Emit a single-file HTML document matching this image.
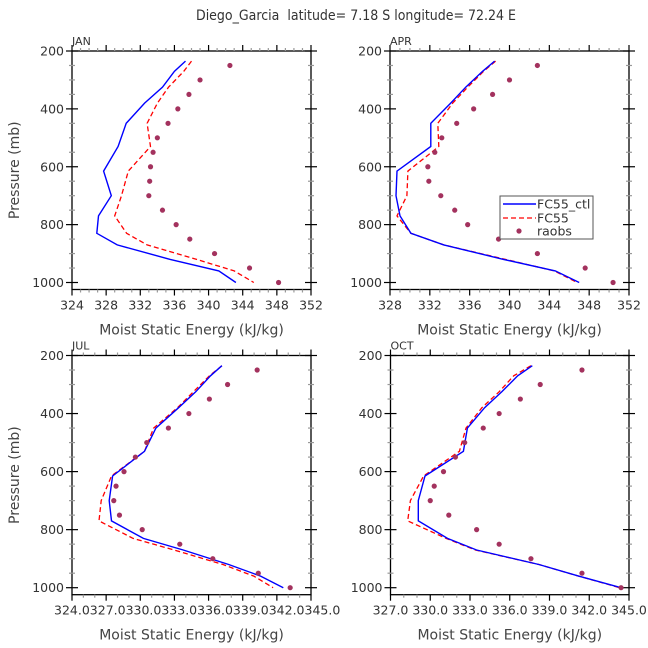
<!DOCTYPE html>
<html><head><meta charset="utf-8"><style>
html,body{margin:0;padding:0;background:#fff;}
svg{display:block;font-family:"DejaVu Sans","Liberation Sans",sans-serif;}
</style></head><body>
<svg id="chart" width="648" height="648" viewBox="0 0 648 648" xmlns="http://www.w3.org/2000/svg">
<text x="356" y="20" font-size="14" text-anchor="middle" fill="#333" textLength="320" lengthAdjust="spacingAndGlyphs">Diego_Garcia&#160; latitude= 7.18 S longitude= 72.24 E</text>
</svg>
<script>
const levels = [235,270,325,380,450,530,615,700,770,830,870,920,960,1000];
const raobLevels = [250,300,350,400,450,500,550,600,650,700,750,800,850,900,950,1000];
const janCtl = [337.3,336.0,334.6,332.5,330.35,329.4,327.7,328.6,327.1,326.9,329.3,335.5,341.2,343.2];
const janFc = [338.0,337.1,335.3,334.0,332.8,333.2,330.6,329.8,329.0,330.4,332.8,338.6,343.0,345.3];
const janObs = [342.5,339.0,337.7,336.4,335.25,334.0,333.5,333.2,333.1,333.0,334.6,336.2,337.8,340.7,344.8,348.2];
const aprCtl = [338.5,337.3,335.6,334.1,332.1,332.1,328.7,328.6,329.0,330.1,333.4,339.4,344.6,347.0];
const aprFc = [338.6,337.4,335.8,334.3,332.8,332.9,329.8,329.7,328.7,330.1,333.4,339.6,344.5,346.8];
const aprObs = [342.8,340.0,338.3,336.4,334.7,333.2,332.5,331.8,331.9,333.1,334.5,335.8,338.9,342.8,347.6,350.4];
const julCtl = [337.2,336.2,334.9,333.4,331.4,330.4,327.6,327.3,327.5,330.3,333.8,337.8,340.6,342.6];
const julFc = [337.2,336.1,334.7,333.3,331.2,330.4,327.5,326.6,326.4,329.4,333.0,337.3,340.0,341.7];
const julObs = [340.3,337.7,336.1,334.3,332.5,330.6,329.6,328.6,327.9,327.7,328.2,330.2,333.5,336.4,340.4,343.2];
const octCtl = [337.7,336.6,335.4,334.1,332.8,332.5,329.6,329.1,329.1,331.3,333.5,338.2,341.2,344.4];
const octFc = [337.6,336.3,335.2,333.9,332.7,332.2,329.5,328.5,328.3,331.2,333.4,338.2,341.2,344.3];
const octObs = [341.45,338.3,336.8,335.2,334.0,332.6,331.9,331.0,330.3,330.0,331.4,333.5,335.2,337.6,341.45,344.4];
const janTicks = ["324","328","332","336","340","344","348","352"];
const aprTicks = ["328","332","336","340","344","348","352"];
const octTicks = ["327.0","330.0","333.0","336.0","339.0","342.0","345.0"];
const yTicks = ["200","400","600","800","1000"];

const NS="http://www.w3.org/2000/svg";
const svg=document.getElementById('chart');
function mk(tag,attrs,parent){const e=document.createElementNS(NS,tag);for(const k in attrs)e.setAttribute(k,attrs[k]);(parent||svg).appendChild(e);return e;}

function panel(o){
  const g=mk('g',{});
  
  
  const L=o.left,R=o.right,T=o.top,Y1000=o.y1000;
  const sy=p=>T+(p-200)*(Y1000-T)/800;
  const sx=v=>L+(v-o.xmin)*(R-L)/(o.xmax-o.xmin);
  const B=Y1000+7;
  const fr=mk('rect',{x:L,y:T,width:R-L,height:B-T,fill:'none',stroke:'#000','stroke-width':1.3},g);
  
  
  for(let p=200;p<=1000;p+=50){
    const y=sy(p);const major=(p%200===0);const len=major?6:3;const col=major?'#000':'#999';
    mk('line',{x1:L-len,x2:L+len,y1:y,y2:y,stroke:col,'stroke-width':1.2},g);
    mk('line',{x1:R-len,x2:R+len,y1:y,y2:y,stroke:col,'stroke-width':1.2},g);
  }
  yTicks.forEach(t=>{
    const tx=mk('text',{x:L-8,y:sy(+t)+4.5,'font-size':12.5,'text-anchor':'end',fill:'#333'},g);
    tx.textContent=t;
    
    
  });
  for(let v=o.xmin;v<=o.xmax+1e-6;v+=o.minor){
    const x=sx(v);
    const major=Math.abs(((v-o.xmin)/o.major)-Math.round((v-o.xmin)/o.major))<1e-6;
    const len=major?6:3;const col=major?'#000':'#999';
    mk('line',{x1:x,x2:x,y1:B,y2:B+len,stroke:col,'stroke-width':1.2},g);
    mk('line',{x1:x,x2:x,y1:T,y2:T-len,stroke:col,'stroke-width':1.2},g);
  }
  if(o.xlabelString){
    const tx=mk('text',{x:sx(o.xmin)-18,y:B+20,'font-size':12.5,fill:'#333'},g);
    tx.textContent=o.xlabelString;
    
    
  } else {
    o.xticks.forEach(t=>{
      const tx=mk('text',{x:sx(+t),y:B+20,'font-size':12.5,'text-anchor':'middle',fill:'#333'},g);
      tx.textContent=t;
      
      
    });
  }
  const xt=mk('text',{x:(L+R)/2,y:B+45,'font-size':14,'text-anchor':'middle',fill:'#444'},g);
  xt.textContent='Moist Static Energy (kJ/kg)';
  
  
  if(o.ytitle){
    const yt=mk('text',{x:0,y:0,'font-size':14,'text-anchor':'middle',fill:'#444',transform:`translate(19,${(T+B)/2}) rotate(-90)`},g);
    yt.textContent='Pressure (mb)';
    
    
  }
  const pl=mk('text',{x:L,y:T-6,'font-size':11,fill:'#333'},g);
  pl.textContent=o.label;
  
  
  const ptsC=levels.map((p,i)=>sx(o.ctl[i]).toFixed(1)+','+sy(p).toFixed(1)).join(' ');
  const ptsF=levels.map((p,i)=>sx(o.fc[i]).toFixed(1)+','+sy(p).toFixed(1)).join(' ');
  const lf=mk('polyline',{points:ptsF,fill:'none',stroke:'#ff0000','stroke-width':1.3,'stroke-dasharray':'5,3'},g);
  
  
  const lc=mk('polyline',{points:ptsC,fill:'none',stroke:'#0000ff','stroke-width':1.4},g);
  
  
  raobLevels.forEach((p,i)=>{
    const c=mk('circle',{cx:sx(o.obs[i]),cy:sy(p),r:2.6,fill:'#a3325e'},g);
    
    
  });
}

panel({name:'jan',label:'JAN',left:72,right:311,top:51,y1000:282.5,xmin:324,xmax:352,major:4,minor:1,xticks:janTicks,ctl:janCtl,fc:janFc,obs:janObs,ytitle:true});
panel({name:'apr',label:'APR',left:390,right:629,top:51,y1000:282.5,xmin:328,xmax:352,major:4,minor:1,xticks:aprTicks,ctl:aprCtl,fc:aprFc,obs:aprObs,ytitle:false});
panel({name:'jul',label:'JUL',left:72,right:311,top:355.5,y1000:587.7,xmin:324.03,xmax:345.03,major:3,minor:1,xlabelString:'324.0327.0330.0333.0336.0339.0342.0345.0',ctl:julCtl,fc:julFc,obs:julObs,ytitle:true});
panel({name:'oct',label:'OCT',left:390.5,right:629,top:355.5,y1000:587.7,xmin:327,xmax:345,major:3,minor:1,xticks:octTicks,ctl:octCtl,fc:octFc,obs:octObs,ytitle:false});

const lg=mk('g',{});


mk('rect',{x:500,y:196,width:93,height:43,fill:'#fff',stroke:'#555','stroke-width':1},lg);
const e1=mk('line',{x1:503,x2:536,y1:204,y2:204,stroke:'#0000ff','stroke-width':1.4},lg);


const t1=mk('text',{x:537,y:208.5,'font-size':12.5,fill:'#333'},lg);t1.textContent='FC55_ctl';
const e2=mk('line',{x1:503,x2:536,y1:218,y2:218,stroke:'#ff0000','stroke-width':1.3,'stroke-dasharray':'5,3'},lg);


const t2=mk('text',{x:537,y:222.5,'font-size':12.5,fill:'#333'},lg);t2.textContent='FC55';
const e3=mk('circle',{cx:519,cy:231,r:2.6,fill:'#a3325e'},lg);


const t3=mk('text',{x:537,y:235.5,'font-size':12.5,fill:'#333'},lg);t3.textContent='raobs';
</script>
</body></html>
